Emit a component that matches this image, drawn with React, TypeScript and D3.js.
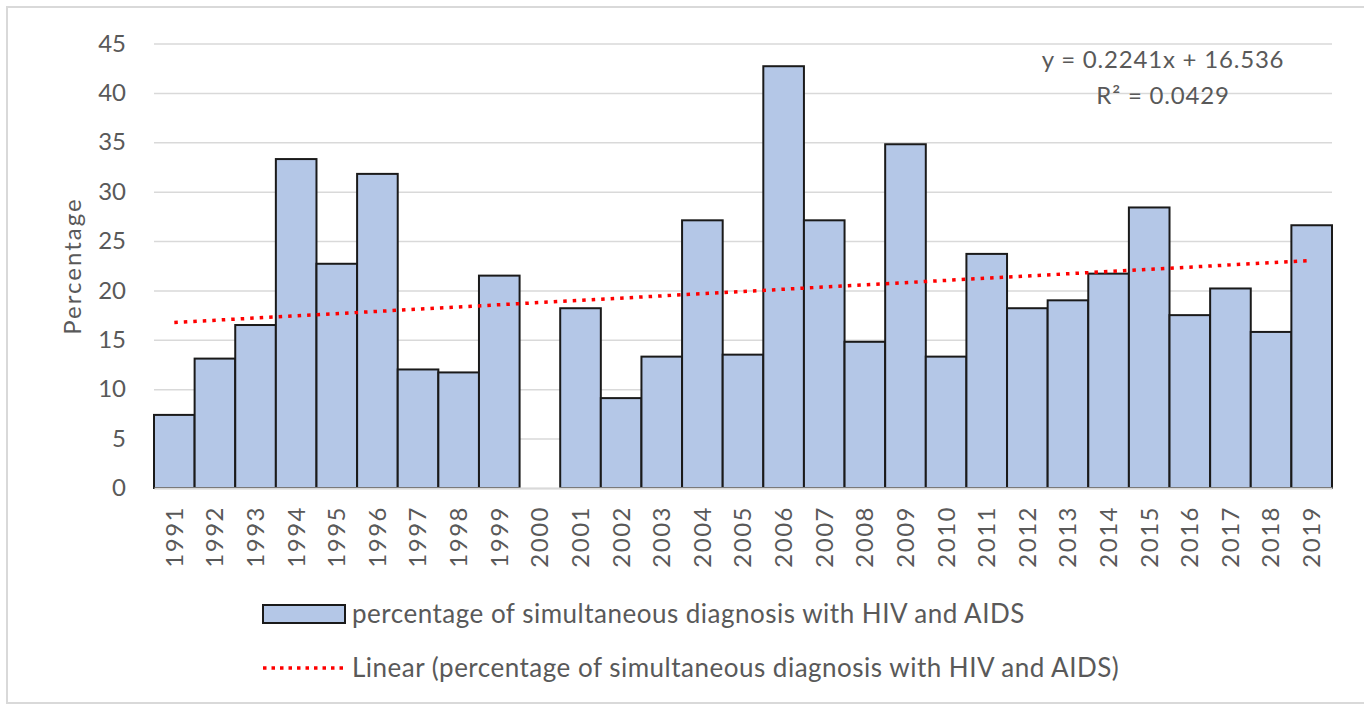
import React, { useRef, useEffect } from "react";
import { select, scaleBand, scaleLinear, axisLeft, axisBottom } from "d3";

// chart values
const years = [
  "1991", "1992", "1993", "1994", "1995", "1996", "1997", "1998", "1999", "2000",
  "2001", "2002", "2003", "2004", "2005", "2006", "2007", "2008", "2009", "2010",
  "2011", "2012", "2013", "2014", "2015", "2016", "2017", "2018", "2019",
];
const percentages = [
  7.4, 13.1, 16.5, 33.3, 22.7, 31.8, 12.0, 11.7, 21.5, 0,
  18.2, 9.1, 13.3, 27.1, 13.5, 42.7, 27.1, 14.8, 34.8, 13.3,
  23.7, 18.2, 19.0, 21.7, 28.4, 17.5, 20.2, 15.8, 26.6,
];
const yTicks = [0, 5, 10, 15, 20, 25, 30, 35, 40, 45];
const trendSlope = 0.2241;
const trendIntercept = 16.536;
const equationLines = ["y = 0.2241x + 16.536", "R² = 0.0429"];
const seriesName = "percentage of simultaneous diagnosis with HIV and AIDS";

const FONT = "Lato, 'Open Sans', sans-serif";
const TEXT = "#595959";
const GRID = "#d9d9d9";
const FILL = "#B4C7E7";

const App = () => {
  const svgRef = useRef<SVGSVGElement>(null);

  useEffect(() => {
    document.body.style.margin = "0";
    const svg = select(svgRef.current);
    svg.selectAll("*").remove();

    const left = 154;
    const right = 1332;
    const top = 43.5;
    const bottom = 488;

    const x = scaleBand<string>().domain(years).range([left, right]).padding(0);
    const y = scaleLinear().domain([0, 45]).range([bottom, top]);

    // outer border
    svg
      .append("rect")
      .attr("x", 7)
      .attr("y", 7)
      .attr("width", 1400)
      .attr("height", 696)
      .attr("fill", "white")
      .attr("stroke", GRID)
      .attr("stroke-width", 2);

    // grid + y labels
    const yAxis = axisLeft(y)
      .tickValues(yTicks)
      .tickSize(-(right - left))
      .tickPadding(28);
    const gy = svg.append("g").attr("transform", `translate(${left},0)`).call(yAxis);
    gy.select(".domain").remove();
    gy.selectAll(".tick line").attr("stroke", GRID).attr("stroke-width", 1.5);
    gy.selectAll(".tick text")
      .attr("fill", TEXT)
      .style("font-family", FONT)
      .style("font-size", "24px");

    // bars (2000 has no value, so no bar)
    const barData = years
      .map((year, i) => ({ year, value: percentages[i] }))
      .filter((d) => d.value > 0);
    svg
      .append("g")
      .selectAll("rect")
      .data(barData)
      .join("rect")
      .attr("x", (d) => x(d.year)!)
      .attr("y", (d) => y(d.value))
      .attr("width", x.bandwidth())
      .attr("height", (d) => bottom - y(d.value))
      .attr("fill", FILL)
      .attr("stroke", "#1a1a1a")
      .attr("stroke-width", 2);

    // x axis
    const xAxis = axisBottom(x).tickSize(0).tickPadding(0);
    const gx = svg.append("g").attr("transform", `translate(0,${bottom})`).call(xAxis);
    gx.select(".domain").attr("stroke", GRID).attr("stroke-width", 2);
    gx.selectAll(".tick text")
      .attr("fill", TEXT)
      .style("font-family", FONT)
      .style("font-size", "24px")
      .style("letter-spacing", "1.5px")
      .attr("transform", "rotate(-90)")
      .attr("text-anchor", "end")
      .attr("dy", "0.35em")
      .attr("x", -18)
      .attr("y", 0);

    // linear trend
    const trendX = (i: number) => x(years[i])! + x.bandwidth() / 2;
    const n = years.length;
    svg
      .append("line")
      .attr("x1", trendX(0))
      .attr("y1", y(trendSlope * 1 + trendIntercept))
      .attr("x2", trendX(n - 1))
      .attr("y2", y(trendSlope * n + trendIntercept))
      .attr("stroke", "#ff0000")
      .attr("stroke-width", 3.5)
      .attr("stroke-dasharray", "3.5 6");

    // equation
    svg
      .append("g")
      .selectAll("text")
      .data(equationLines)
      .join("text")
      .attr("x", 1163)
      .attr("y", (d, i) => 68 + i * 36)
      .attr("text-anchor", "middle")
      .attr("fill", TEXT)
      .style("font-family", FONT)
      .style("font-size", "24px")
      .style("letter-spacing", "0.8px")
      .text((d) => d);

    // y title
    svg
      .append("text")
      .attr("transform", `translate(81,266) rotate(-90)`)
      .attr("text-anchor", "middle")
      .attr("fill", TEXT)
      .style("font-family", FONT)
      .style("font-size", "24px")
      .style("letter-spacing", "2px")
      .text("Percentage");

    // legend
    const lg = svg.append("g");
    lg.append("rect")
      .attr("x", 263)
      .attr("y", 605)
      .attr("width", 82)
      .attr("height", 18)
      .attr("fill", FILL)
      .attr("stroke", "#1a1a1a")
      .attr("stroke-width", 2);
    lg.append("text")
      .attr("x", 352)
      .attr("y", 623)
      .attr("fill", TEXT)
      .style("font-family", FONT)
      .style("font-size", "26px")
      .style("letter-spacing", "0.5px")
      .text(seriesName);
    lg.append("line")
      .attr("x1", 263)
      .attr("x2", 345)
      .attr("y1", 668)
      .attr("y2", 668)
      .attr("stroke", "#ff0000")
      .attr("stroke-width", 3.5)
      .attr("stroke-dasharray", "3.5 5");
    lg.append("text")
      .attr("x", 352)
      .attr("y", 677)
      .attr("fill", TEXT)
      .style("font-family", FONT)
      .style("font-size", "26px")
      .style("letter-spacing", "0.5px")
      .text(`Linear (${seriesName})`);
  }, []);

  return <svg ref={svgRef} width={1364} height={709} style={{ display: "block" }} />;
};

export default App;
